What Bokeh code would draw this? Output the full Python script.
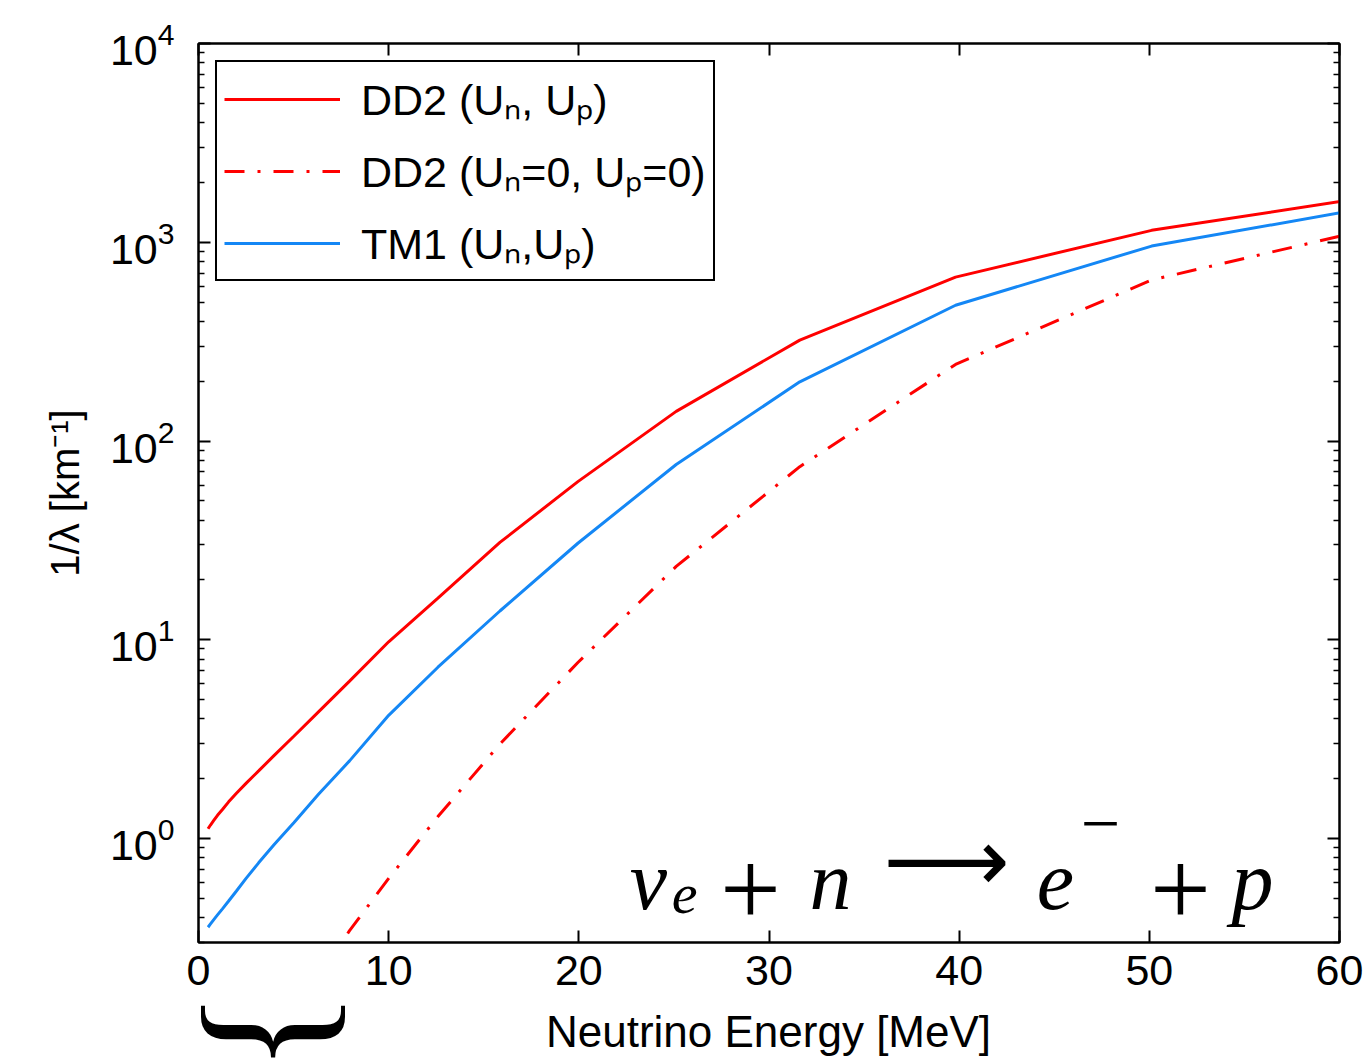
import math
from bokeh.plotting import figure
from bokeh.layouts import column
from bokeh.models import (LogAxis, LinearAxis, Range1d, Label, Legend, LegendItem,
                          FixedTicker, ColumnDataSource)
from bokeh.embed import file_html
from bokeh.resources import INLINE

# ---------------- data ----------------
energy = [0.501, 0.631, 0.794, 1.0, 1.259, 1.585, 1.995, 2.512, 3.162, 3.981,
          5.012, 6.310, 7.943, 10.0, 12.59, 15.85, 19.95, 25.12, 31.62, 39.81,
          50.12, 63.10]
dd2_full = [1.12, 1.17, 1.23, 1.31, 1.40, 1.53, 1.69, 1.90, 2.19, 2.62,
            3.27, 4.34, 6.20, 9.77, 16.2, 30.9, 62.5, 141, 322, 668,
            1148, 1778]
tm1_full = [0.358, 0.372, 0.390, 0.413, 0.443, 0.485, 0.545, 0.632, 0.755, 0.933,
            1.20, 1.67, 2.46, 4.17, 7.28, 13.96, 30.6, 76.2, 198.6, 482,
            957, 1585]
energy_free = [5.012, 6.310, 7.943, 10.0, 12.59, 15.85, 19.95, 25.12, 31.62,
               39.81, 50.12, 63.10]
dd2_free = [0.129, 0.20, 0.344, 0.631, 1.29, 2.99, 7.69, 23.4, 74.3,
            243, 646, 1256]

x_ticks = [0, 10, 20, 30, 40, 50, 60]
y_ticks = [1, 10, 100, 1000, 10000]
y_minor = [m * 10.0 ** k for k in range(-1, 4) for m in range(2, 10)]

labels = ["DD2 (Uₙ, Uₚ)", "DD2 (Uₙ=0, Uₚ=0)", "TM1 (Uₙ,Uₚ)"]
x_title = "Neutrino Energy [MeV]"
y_title = "1/λ [km⁻¹]"

# ---------------- layout ----------------
W, H = 1366, 1059
H1 = 1005                      # height of the main figure; a strip sits below
FL, FR, FT, FB = 198, 1339, 43, 942
X0, X1 = 0, 60
Y0, Y1 = 0.3, 1e4

RED = "#FF0000"
BLUE = "#1487F5"
FONT = "Liberation Sans"
SERIF = "Liberation Serif"


def dx(X):
    return X0 + (X - FL) / (FR - FL) * (X1 - X0)


def dy(Y):
    l0, l1 = math.log10(Y0), math.log10(Y1)
    return 10 ** (l0 + (FB - Y) / (FB - FT) * (l1 - l0))


p = figure(width=W, height=H1, x_range=Range1d(X0, X1), y_range=Range1d(Y0, Y1),
           y_axis_type="log", output_backend="svg", toolbar_location=None,
           min_border_left=FL, min_border_right=W - FR,
           min_border_top=FT, min_border_bottom=H1 - FB)
p.grid.visible = False
p.outline_line_color = "black"
p.outline_line_width = 2
p.background_fill_color = "white"
p.border_fill_color = "white"

src_full = ColumnDataSource(dict(e=energy, dd2=dd2_full, tm1=tm1_full))
src_free = ColumnDataSource(dict(e=energy_free, dd2=dd2_free))

r1 = p.line("e", "dd2", source=src_full, line_color=RED, line_width=3)
r2 = p.line("e", "dd2", source=src_free, line_color=RED, line_width=3,
            line_dash="20 13 3 13")
r3 = p.line("e", "tm1", source=src_full, line_color=BLUE, line_width=3)


def style_axis(ax, show_labels):
    ax.axis_line_color = "black"
    ax.axis_line_width = 2
    ax.major_tick_in = 12
    ax.major_tick_out = 0
    ax.minor_tick_in = 6
    ax.minor_tick_out = 0
    ax.major_tick_line_width = 2
    ax.minor_tick_line_width = 1.5
    ax.major_tick_line_color = "black"
    ax.minor_tick_line_color = "black"
    ax.major_label_text_font = FONT
    ax.major_label_text_font_size = "43px" if show_labels else "0px"
    ax.major_label_text_color = "black"
    if not show_labels:
        ax.major_label_text_alpha = 0


xb = p.xaxis[0]
xb.ticker = FixedTicker(ticks=x_ticks)
style_axis(xb, True)
xb.minor_tick_line_color = None
xb.major_label_standoff = 13

yl = p.yaxis[0]
yl.ticker = FixedTicker(ticks=y_ticks, minor_ticks=y_minor)
style_axis(yl, True)
yl.major_label_standoff = 24
yl.axis_label = y_title
yl.axis_label_text_font = FONT
yl.axis_label_text_font_size = "40px"
yl.axis_label_text_font_style = "normal"
yl.axis_label_text_color = "black"
yl.axis_label_standoff = 20

xt = LinearAxis(ticker=FixedTicker(ticks=x_ticks))
style_axis(xt, False)
xt.minor_tick_line_color = None
p.add_layout(xt, "above")

yr = LogAxis(ticker=FixedTicker(ticks=y_ticks, minor_ticks=y_minor))
style_axis(yr, False)
p.add_layout(yr, "right")

legend = Legend(items=[LegendItem(label=labels[0], renderers=[r1]),
                       LegendItem(label=labels[1], renderers=[r2]),
                       LegendItem(label=labels[2], renderers=[r3])],
                location="top_left", margin=17, padding=7, spacing=13,
                glyph_width=116, glyph_height=46, label_height=46,
                label_standoff=21, label_text_font=FONT,
                label_text_font_size="43px", label_text_baseline="middle",
                label_text_color="black",
                border_line_color="black", border_line_width=2,
                border_line_alpha=1,
                background_fill_color="white", background_fill_alpha=1)
p.add_layout(legend, "center")


def add_label(X, Y, text, size, font=FONT, style="normal", align="center",
              baseline="alphabetic", angle=0.0):
    p.add_layout(Label(x=dx(X), y=dy(Y), text=text, text_font=font,
                       text_font_size=size, text_font_style=style,
                       text_align=align, text_baseline=baseline, angle=angle,
                       text_color="black"))


# reaction formula
add_label(648, 880, "ν", "84px", SERIF, "italic")
add_label(684, 893, "e", "58px", SERIF, "italic")
add_label(750, 889, "+", "108px", SERIF)
add_label(830, 880, "n", "84px", SERIF, "italic")
add_label(946, 860, "⟶", "88px", "DejaVu Sans", baseline="middle")
add_label(1055, 880, "e", "84px", SERIF, "italic")
add_label(1100, 823, "−", "70px", SERIF, baseline="middle")
add_label(1180, 889, "+", "108px", SERIF)
add_label(1252, 880, "p", "84px", SERIF, "italic")

# ---------------- strip below: x-axis title and brace ----------------
# the column aligns this strip's frame with the main frame (FL..FR)
q = figure(width=W, height=H - H1, x_range=Range1d(FL, FR), y_range=Range1d(H, H1),
           output_backend="svg", toolbar_location=None,
           x_axis_location=None, y_axis_location=None,
           min_border_left=FL, min_border_right=W - FR,
           min_border_top=0, min_border_bottom=0)
q.grid.visible = False
q.outline_line_color = None
q.background_fill_color = "white"
q.border_fill_color = "white"

q.add_layout(Label(x=768, y=1031, text=x_title, text_font=FONT,
                   text_font_size="44px", text_align="center",
                   text_baseline="middle", text_color="black"))
q.add_layout(Label(x=282, y=1031, text="}", text_font=SERIF,
                   text_font_size="174px", text_align="center",
                   text_baseline="middle", angle=-math.pi / 2,
                   text_color="black"))

layout = column(p, q, spacing=0)
open("out.html", "w").write(file_html(layout, INLINE))
